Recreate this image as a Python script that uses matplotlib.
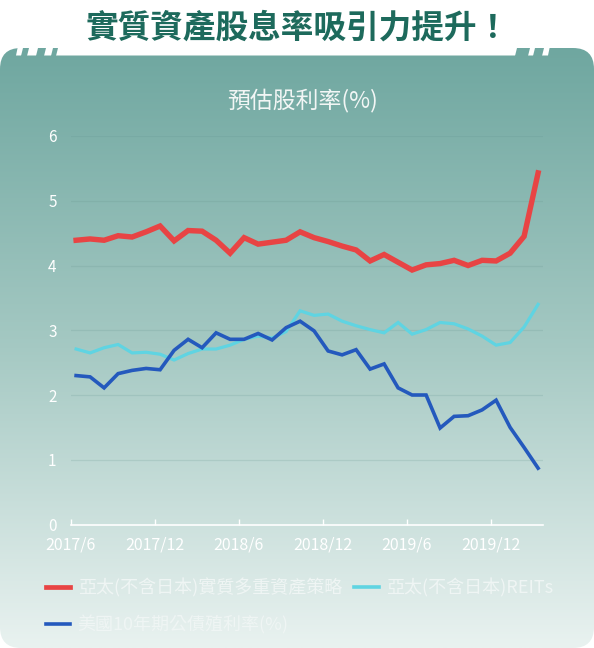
import numpy as np
import matplotlib
matplotlib.use("Agg")
import matplotlib.pyplot as plt
from matplotlib.patches import FancyBboxPatch, Polygon
from matplotlib.colors import LinearSegmentedColormap

plt.rcParams["font.family"] = ["Noto Sans CJK TC", "DejaVu Sans"]

# monthly values, 2017/6 .. 2020/3
asia_multi_asset = [4.39, 4.41, 4.39, 4.46, 4.44, 4.52, 4.61, 4.38, 4.54, 4.53,
                    4.39, 4.19, 4.43, 4.33, 4.36, 4.39, 4.52, 4.43, 4.37, 4.30,
                    4.24, 4.07, 4.17, 4.05, 3.93, 4.01, 4.03, 4.08, 4.00, 4.08,
                    4.07, 4.19, 4.45, 5.43]
asia_reits = [2.71, 2.65, 2.73, 2.78, 2.65, 2.66, 2.63, 2.54, 2.64, 2.71,
              2.71, 2.77, 2.86, 2.91, 2.88, 2.98, 3.30, 3.23, 3.25, 3.14,
              3.07, 3.01, 2.96, 3.12, 2.94, 3.01, 3.12, 3.10, 3.02, 2.91,
              2.77, 2.81, 3.05, 3.40]
us_10y = [2.30, 2.28, 2.11, 2.33, 2.38, 2.41, 2.39, 2.69, 2.86, 2.73,
          2.96, 2.86, 2.86, 2.95, 2.85, 3.04, 3.14, 2.99, 2.68, 2.62,
          2.70, 2.40, 2.48, 2.11, 2.00, 2.00, 1.49, 1.67, 1.68, 1.77,
          1.92, 1.50, 1.19, 0.87]
tick_labels = ["2017/6", "2017/12", "2018/6", "2018/12", "2019/6", "2019/12"]
tick_months = [0, 6, 12, 18, 24, 30]
y_ticks = [0, 1, 2, 3, 4, 5, 6]

labels = [
    "亞太(不含日本)實質多重資產策略",
    "亞太(不含日本)REITs",
    "美國10年期公債殖利率(%)",
]
colors = ["#e84444", "#5fd4e2", "#2459bd"]

W, H = 594, 648
fig = plt.figure(figsize=(W / 100, H / 100), dpi=100)
fig.patch.set_facecolor("white")

# background panel (pixel coordinates)
bg = fig.add_axes([0, 0, 1, 1])
bg.set_xlim(0, W)
bg.set_ylim(H, 0)
bg.axis("off")

panel = FancyBboxPatch((0, 48), W, 600, boxstyle="round,pad=0,rounding_size=21",
                       facecolor="none", edgecolor="none")
bg.add_patch(panel)
cmap = LinearSegmentedColormap.from_list("bg", ["#6fa7a0", "#a5c9c3", "#e9f2f0"])
grad = np.linspace(0, 1, 256).reshape(-1, 1)
im = bg.imshow(grad, cmap=cmap, extent=(0, W, H, 48), aspect="auto", zorder=0)
im.set_clip_path(panel)

# white notch band at top of panel with small slanted stubs
bg.add_patch(Polygon([(18, 46), (550, 46), (548, 55.5), (16, 55.5)],
                     closed=True, facecolor="white", edgecolor="none", zorder=1))
for x0, x1 in [(21, 27), (36, 44), (51, 56), (515, 528), (533, 542)]:
    bg.add_patch(Polygon([(x0 + 2, 48), (x1 + 2, 48), (x1, 56), (x0, 56)],
                         closed=True, facecolor="#6fa7a0", edgecolor="none", zorder=2))

fig.text(298 / W, 1 - 28 / H, "實質資產股息率吸引力提升！", ha="center", va="center",
         fontsize=23.5, fontweight="bold", color="#1d6a5c")
fig.text(303 / W, 1 - 100 / H, "預估股利率(%)", ha="center", va="center",
         fontsize=16.5, color="#f2f6f5")

# chart
ax = fig.add_axes([70.5 / W, (H - 524.5) / H, (543 - 70.5) / W, (524.5 - 136) / H])
ax.patch.set_alpha(0)
x = np.arange(len(asia_multi_asset)) + 0.4
l2, = ax.plot(x, asia_reits, color=colors[1], lw=2.3, label=labels[1], zorder=3,
              solid_joinstyle="miter")
l3, = ax.plot(x, us_10y, color=colors[2], lw=2.6, label=labels[2], zorder=4,
              solid_joinstyle="miter")
l1, = ax.plot(x, asia_multi_asset, color=colors[0], lw=3.9, label=labels[0], zorder=5,
              solid_joinstyle="miter")

ax.set_xlim(0, 33.75)
ax.set_ylim(0, 6)
ax.set_yticks(y_ticks)
ax.set_yticklabels([str(v) for v in y_ticks])
ax.set_xticks(tick_months)
ax.set_xticklabels(tick_labels)
for s in ["top", "right", "left"]:
    ax.spines[s].set_visible(False)
ax.spines["bottom"].set_color("white")
ax.spines["bottom"].set_linewidth(1.2)
ax.tick_params(axis="y", length=0, pad=10, labelsize=11, labelcolor="white")
ax.tick_params(axis="x", direction="in", length=4, width=1, color="white",
               pad=9, labelsize=11.5, labelcolor="white")
for t in ax.get_xticklabels():
    t.set_fontweight("medium")
for v in y_ticks[1:]:
    ax.axhline(v, color="#5f8f89", alpha=0.18, lw=0.9, zorder=1)

leg = ax.legend([l1, l3, l2], [labels[0], labels[2], labels[1]], ncol=2,
                loc="upper left", bbox_to_anchor=(46 / W, 1 - 578 / H),
                bbox_transform=fig.transFigure, frameon=False, fontsize=13,
                handlelength=1.35, handletextpad=0.4, columnspacing=0.7,
                labelspacing=1.0, borderpad=0, borderaxespad=0)
for t in leg.get_texts():
    t.set_color("#eff5f4")
leg.get_lines()[0].set_linewidth(3.4)
leg.get_lines()[1].set_linewidth(2.6)
leg.get_lines()[2].set_linewidth(2.6)

fig.savefig("out.png", dpi=100)
